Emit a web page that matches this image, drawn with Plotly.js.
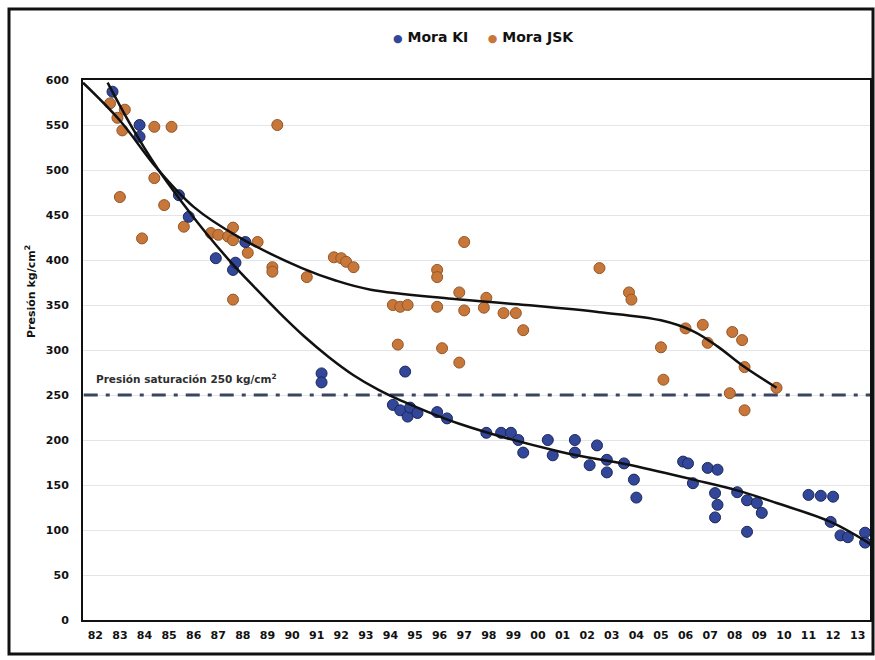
<!DOCTYPE html>
<html>
<head>
<meta charset="utf-8">
<script src="https://cdn.plot.ly/plotly-3.0.1.min.js"></script>
<style>
  html, body { margin: 0; padding: 0; background: #ffffff; }
  #chart { width: 875px; height: 660px; }
</style>
</head>
<body>
<div id="chart"></div>
<script>
// Measured reservoir pressure (kg/cm²) by year for the two Mora wells
const kiYear = [1983.2, 1984.3, 1984.3, 1985.9, 1986.3, 1987.4, 1988.1, 1988.2, 1988.6,
  1991.7, 1991.7, 1995.1, 1994.6, 1994.9, 1995.2, 1995.3, 1995.6, 1996.4, 1996.8,
  1998.4, 1999.0, 1999.4, 1999.7, 1999.9, 2000.9, 2001.1, 2002.0, 2002.0, 2002.9,
  2002.6, 2003.3, 2003.3, 2004.0, 2004.4, 2004.5, 2006.4, 2006.6, 2006.8, 2007.4,
  2007.8, 2007.7, 2007.8, 2007.7, 2008.6, 2009.0, 2009.4, 2009.6, 2009.0,
  2011.5, 2012.0, 2012.5, 2012.4, 2012.8, 2013.1, 2013.8, 2013.8];
const kiPressure = [587, 550, 537, 472, 448, 402, 389, 397, 420,
  274, 264, 276, 239, 233, 226, 236, 230, 231, 224,
  208, 208, 208, 200, 186, 200, 183, 200, 186, 194,
  172, 178, 164, 174, 156, 136, 176, 174, 152, 169,
  167, 141, 128, 114, 142, 133, 130, 119, 98,
  139, 138, 137, 109, 94, 92, 97, 86];

const jskYear = [1983.1, 1983.7, 1983.4, 1983.6, 1984.9, 1985.6, 1983.5, 1984.9, 1985.3,
  1984.4, 1986.1, 1987.2, 1987.5, 1987.9, 1988.1, 1988.1, 1989.1, 1988.7, 1989.7,
  1989.7, 1991.1, 1988.1, 1989.9, 1992.2, 1992.5, 1992.7, 1993.0, 1994.8, 1996.6,
  1997.3, 1997.5, 1996.4, 1996.4, 1997.3, 1994.6, 1994.9, 1995.2, 1996.4, 1997.5,
  1998.4, 1998.3, 1999.1, 1999.6, 1999.9, 2003.0, 2004.2, 2004.3, 2005.5, 2005.6,
  2006.5, 2007.2, 2007.4, 2008.4, 2008.8, 2008.9, 2008.3, 2008.9, 2010.2];
const jskPressure = [574, 567, 558, 544, 548, 548, 470, 491, 461,
  424, 437, 430, 428, 426, 436, 422, 420, 408, 392,
  387, 381, 356, 550, 403, 402, 398, 392, 306, 302,
  286, 420, 389, 381, 364, 350, 348, 350, 348, 344,
  358, 347, 341, 341, 322, 391, 364, 356, 303, 267,
  324, 328, 308, 320, 311, 281, 252, 233, 258];

// Hand-traced decline curves through each well's history
const kiTrendYear = [1983.0, 1984.0, 1985.0, 1986.0, 1987.0, 1988.0, 1989.0, 1990.0,
  1991.0, 1992.0, 1993.0, 1994.0, 1995.0, 1997.3, 2001.4, 2004.1, 2006.8, 2008.6,
  2010.2, 2012.4, 2014.1];
const kiTrendPressure = [597, 547, 503, 465, 430, 398, 369, 341,
  315, 292, 272, 256, 243, 218, 187, 173, 156, 144,
  130, 109, 83];
const jskTrendYear = [1982.0, 1983.5, 1985.0, 1986.5, 1988.3, 1990.9, 1992.3, 1993.7,
  1997.0, 2000.0, 2003.0, 2005.5, 2006.8, 2007.8, 2008.8, 2010.2];
const jskTrendPressure = [597, 555, 502, 459, 426, 391, 377, 367,
  357, 350, 342, 333, 321, 304, 283, 258];

// Saturation pressure
const satPressure = 250;
const satLabel = 'Presión saturación 250 kg/cm<sup>2</sup>';

// Axis ticks: one label per year, centred in its year band
const yearStart = [1982, 1983, 1984, 1985, 1986, 1987, 1988, 1989, 1990, 1991, 1992,
  1993, 1994, 1995, 1996, 1997, 1998, 1999, 2000, 2001, 2002, 2003, 2004, 2005,
  2006, 2007, 2008, 2009, 2010, 2011, 2012, 2013];
const yearLabels = ['82', '83', '84', '85', '86', '87', '88', '89', '90', '91', '92',
  '93', '94', '95', '96', '97', '98', '99', '00', '01', '02', '03', '04', '05',
  '06', '07', '08', '09', '10', '11', '12', '13'];
const pressureTicks = [0, 50, 100, 150, 200, 250, 300, 350, 400, 450, 500, 550, 600];

const seriesNames = ['Mora KI', 'Mora JSK'];
const kiColor = '#33479a';
const jskColor = '#c8773a';

const boldFont = { family: 'DejaVu Sans, Liberation Sans, sans-serif', weight: 'bold', color: '#111111' };

const traces = [
  {
    x: [yearStart[0] + 0.03, yearStart[yearStart.length - 1] + 1], y: [satPressure, satPressure],
    mode: 'lines', showlegend: false, hoverinfo: 'skip',
    line: { color: '#3a4560', width: 3, dash: '14px,8px,4px,8px' }
  },
  {
    x: jskYear, y: jskPressure, name: seriesNames[1], mode: 'markers', showlegend: false,
    marker: { color: jskColor, size: 11, line: { color: '#955626', width: 1 } }
  },
  {
    x: kiYear, y: kiPressure, name: seriesNames[0], mode: 'markers', showlegend: false,
    marker: { color: kiColor, size: 11, line: { color: '#1c2858', width: 1 } }
  },
  {
    x: kiTrendYear, y: kiTrendPressure, mode: 'lines', showlegend: false, hoverinfo: 'skip',
    line: { color: '#111111', width: 2.5, shape: 'spline', smoothing: 1 }
  },
  {
    x: jskTrendYear, y: jskTrendPressure, mode: 'lines', showlegend: false, hoverinfo: 'skip',
    line: { color: '#111111', width: 2.5, shape: 'spline', smoothing: 1 }
  }
];

// pixel -> paper helpers for the fixed 875x660 canvas
const L = 83, R = 870, T = 80, B = 620;
const px = v => (v - L) / (R - L);
const py = v => (B - v) / (B - T);

const layout = {
  width: 875, height: 660,
  margin: { l: L, r: 875 - R, t: T, b: 660 - B, pad: 0 },
  paper_bgcolor: '#ffffff',
  plot_bgcolor: '#ffffff',
  showlegend: false,
  font: boldFont,
  xaxis: {
    range: [yearStart[0], yearStart[yearStart.length - 1] + 1],
    tickmode: 'array',
    tickvals: yearStart.map(y => y + 0.5),
    ticktext: yearLabels,
    ticks: '',
    showgrid: false,
    zeroline: false,
    showline: true, mirror: true, linecolor: '#111111', linewidth: 2,
    tickfont: Object.assign({}, boldFont, { size: 11 }),
    ticklabelstandoff: 4
  },
  yaxis: {
    range: [0, 600],
    tickmode: 'array',
    tickvals: pressureTicks,
    ticks: '',
    showgrid: true, gridcolor: 'rgba(185,190,205,0.4)', gridwidth: 1,
    zeroline: false,
    showline: true, mirror: true, linecolor: '#111111', linewidth: 2,
    tickfont: Object.assign({}, boldFont, { size: 11 }),
    ticklabelstandoff: 10
  },
  shapes: [
    {
      type: 'rect', xref: 'paper', yref: 'paper',
      x0: px(9), x1: px(873), y0: py(654), y1: py(9),
      line: { color: '#111111', width: 3 }, fillcolor: 'rgba(0,0,0,0)', layer: 'below'
    }
  ],
  annotations: [
    {
      xref: 'paper', yref: 'paper', x: px(483), y: py(37), xanchor: 'center', yanchor: 'middle',
      showarrow: false,
      text: '<span style="color:' + kiColor + ';font-size:11px">●</span> ' + seriesNames[0] +
        '    <span style="color:' + jskColor + ';font-size:11px">●</span> ' + seriesNames[1],
      font: Object.assign({}, boldFont, { size: 14 })
    },
    {
      xref: 'paper', yref: 'paper', x: px(30), y: py(292), xanchor: 'center', yanchor: 'middle',
      showarrow: false, textangle: -90,
      text: 'Presión kg/cm<sup>2</sup>',
      font: Object.assign({}, boldFont, { size: 11 })
    },
    {
      xref: 'paper', yref: 'paper', x: px(94), y: py(378), xanchor: 'left', yanchor: 'middle',
      showarrow: false,
      text: satLabel,
      font: Object.assign({}, boldFont, { size: 10.5, color: '#2e2e2e' })
    }
  ]
};

Plotly.newPlot('chart', traces, layout, { displayModeBar: false, staticPlot: true });
</script>
</body>
</html>
